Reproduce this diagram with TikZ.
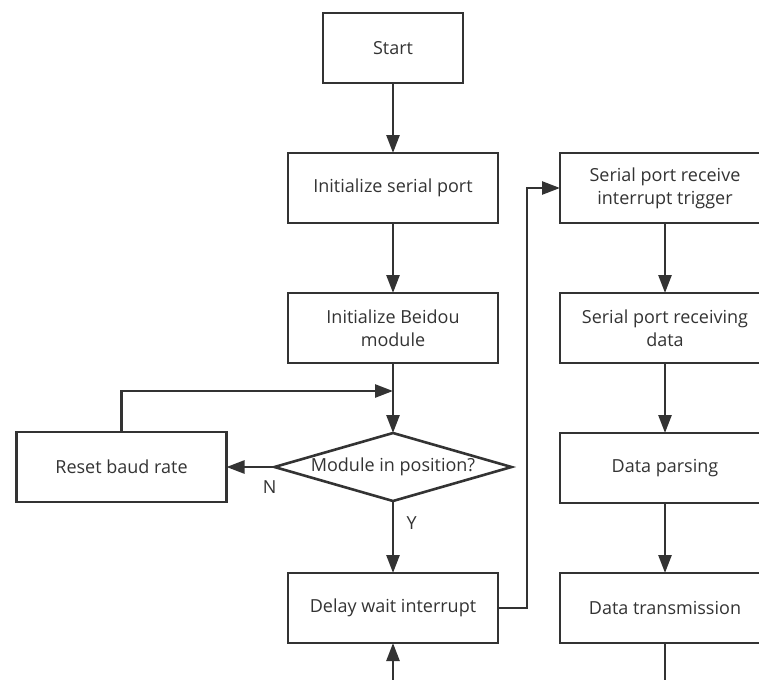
\documentclass[tikz,border=0pt]{standalone}
\usepackage{fontspec}
\setmainfont{Open Sans}
\usetikzlibrary{arrows.meta,positioning,shapes.geometric}

\begin{document}
\begin{tikzpicture}[node distance = 70bp and 62bp,
    font=\fontsize{18bp}{23bp}\selectfont,
    box/.style={rectangle,minimum width=210bp,minimum height=70bp,outer sep=0pt,align=center,line width=2.6bp,draw=black!80,text=black!80},
    startbox/.style={box,minimum width=140bp},
    decide/.style={diamond,aspect=3.5,inner sep=0pt,outer sep=0pt,minimum width=237bp,minimum height=68bp,line width=2.6bp,draw=black!80,text=black!80},
    link/.style={line width=2.6bp,draw=black!80,-{Triangle[length=18bp,width=13bp]}},
    lbl/.style={text=black!80},
   ]
    \clip (0,0) rectangle (759bp,-680bp);

    % main column
    \node (start)  [startbox] at (393bp,-48bp) {Start};
    \node (init)   [box,below=of start]  {Initialize serial port};
    \node (beidou) [box,below=of init]   {Initialize Beidou\\module};
    \node (check)  [decide,below=of beidou] {Module in position?};
    \node (delay)  [box,below=of check,yshift=-2bp] {Delay wait interrupt};
    \node (reset)  [box,left=48bp of check] {Reset baud rate};
    \coordinate[below=28bp of beidou] (join);

    % interrupt column
    \node (trig)  [box,right=of init]  {Serial port receive\\interrupt trigger};
    \node (recv)  [box,below=of trig]  {Serial port receiving\\data};
    \node (parse) [box,below=of recv]  {Data parsing};
    \node (send)  [box,below=of parse] {Data transmission};

    \draw[link] (start) -- (init);
    \draw[link] (init) -- (beidou);
    \draw[link] (beidou) -- (check);
    \draw[link] (reset.north) |- (join);
    \draw[link] (check) -- node[lbl,pos=0.1,below=9bp] {N} (reset);
    \draw[link] (check) -- node[lbl,pos=0.3,right=9bp] {Y} (delay);
    \draw[link] (delay.east) -- ++(29bp,0) |- (trig.west);
    \draw[link] (trig) -- (recv);
    \draw[link] (recv) -- (parse);
    \draw[link] (parse) -- (send);
    \draw[link] (send.south) -- ++(0,-60bp) -| (delay.south);
\end{tikzpicture}
\end{document}
